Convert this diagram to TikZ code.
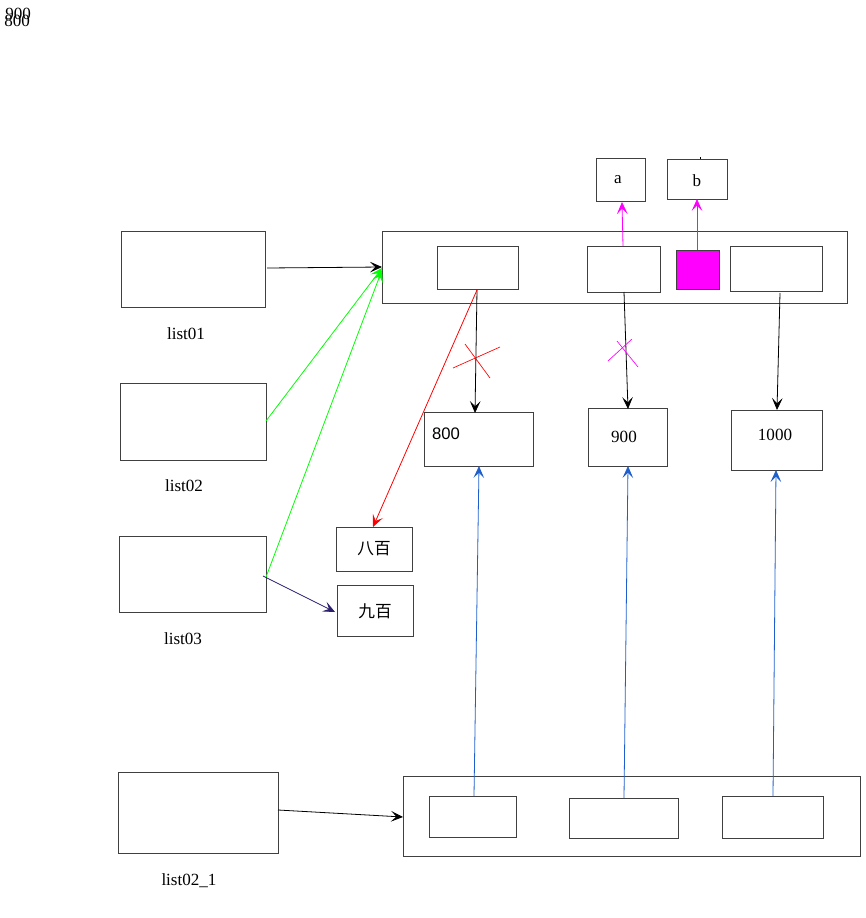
\documentclass[tikz,border=0pt]{standalone}
\usepackage{fontspec}
\setmainfont{Liberation Serif}
\newfontfamily\cjkfont{Noto Sans CJK SC}
\newfontfamily\arialfont{Liberation Sans}
\usetikzlibrary{arrows.meta}
\definecolor{mag}{HTML}{FF00FF}
\definecolor{grn}{HTML}{00FF00}
\definecolor{blu}{HTML}{1F5FCC}
\definecolor{navy}{HTML}{2B1F6E}
\begin{document}
\begin{tikzpicture}[x=0.75pt,y=-0.75pt,
  box/.style={draw=black!75,line width=0.6pt,fill=white},
  tip/.style={-{Stealth[length=9pt,width=8pt,inset=4pt]}},
  lbl/.style={font=\fontsize{12.8}{15}\selectfont},
  conn/.style={line width=0.6pt}]
\useasboundingbox (0,0) rectangle (865,918);

% stray overlapping labels in the corner
\node[lbl,anchor=west,inner sep=0pt] (t900) at (5,14) {900};
\node[lbl,anchor=west,inner sep=0pt] (t800) at (4,21) {800};

% list variables
\draw[box] (121,231) rectangle (265,307);
\node[lbl] (l1) at (186,334) {list01};
\draw[box] (120,383) rectangle (266,460);
\node[lbl] (l2) at (184,486) {list02};
\draw[box] (119,536) rectangle (266,612);
\node[lbl] (l3) at (183,639) {list03};
\draw[box] (118,772) rectangle (278,853);
\node[lbl] (l4) at (189,881) {list02\_1};

% top array and its slots
\draw[box] (382,231) rectangle (847,303);
\draw[box] (437,246) rectangle (518,289);
\draw[box] (587,246) rectangle (660,292);
\draw[draw=black!75,line width=0.6pt,fill=mag] (676,250) rectangle (719,289);
\draw[box] (730,246) rectangle (822,291);

% letters
\draw[box] (596,158) rectangle (645,201);
\node[lbl] (a) at (618,180) {a};
\draw[box] (667,159) rectangle (727,199);
\node[lbl] (b) at (697,181) {b};
\draw[line width=0.5pt] (700,157) -- (700,159);

% number objects
\draw[box] (424,412) rectangle (533,466);
\node[font=\arialfont\fontsize{12.5}{15}\selectfont] (n800) at (446,434) {800};
\draw[box] (588,408) rectangle (667,466);
\node[lbl] (n900) at (624,437) {900};
\draw[box] (731,410) rectangle (822,470);
\node[lbl] (n1000) at (775,435) {1000};

% chinese strings
\draw[box] (336,527) rectangle (412,571);
\node[font=\cjkfont\fontsize{12.5}{15}\selectfont] (c8) at (374,549) {八百};
\draw[box] (337,585) rectangle (413,636);
\node[font=\cjkfont\fontsize{12.5}{15}\selectfont] (c9) at (375,611) {九百};

% bottom array and its slots
\draw[box] (403,776) rectangle (860,856);
\draw[box] (429,796) rectangle (516,837);
\draw[box] (569,798) rectangle (678,838);
\draw[box] (722,796) rectangle (823,838);

% references from the variables
\draw[conn,tip] (267,268) -- (382,267);
\draw[conn,tip,grn] (266,421) -- (382,268);
\draw[conn,tip,grn] (266,577) -- (382,270);
\draw[conn,tip,navy] (263,576) -- (335,612);
\draw[conn,tip] (278,810) -- (403,817);

% slots to objects
\draw[conn,tip] (477,290) -- (475,413);
\draw[conn,tip,red] (477,290) -- (373,527);
\draw[conn,tip] (624,292) -- (628,409);
\draw[conn,tip] (780,293) -- (777,410);
\draw[conn,tip,mag] (623,246) -- (622,202);
\draw[conn,tip,mag] (697,250) -- (697,199);

% crossed-out references
\draw[red,line width=0.5pt] (453,368) -- (500,347);
\draw[red,line width=0.5pt] (465,344) -- (490,378);
\draw[mag,line width=0.5pt] (608,361) -- (632,339);
\draw[mag,line width=0.5pt] (617,341) -- (638,367);

% bottom array slots to objects
\draw[conn,tip,blu] (474,796) -- (479,466);
\draw[conn,tip,blu] (624,798) -- (628,466);
\draw[conn,tip,blu] (773,796) -- (776,470);
\end{tikzpicture}
\end{document}
